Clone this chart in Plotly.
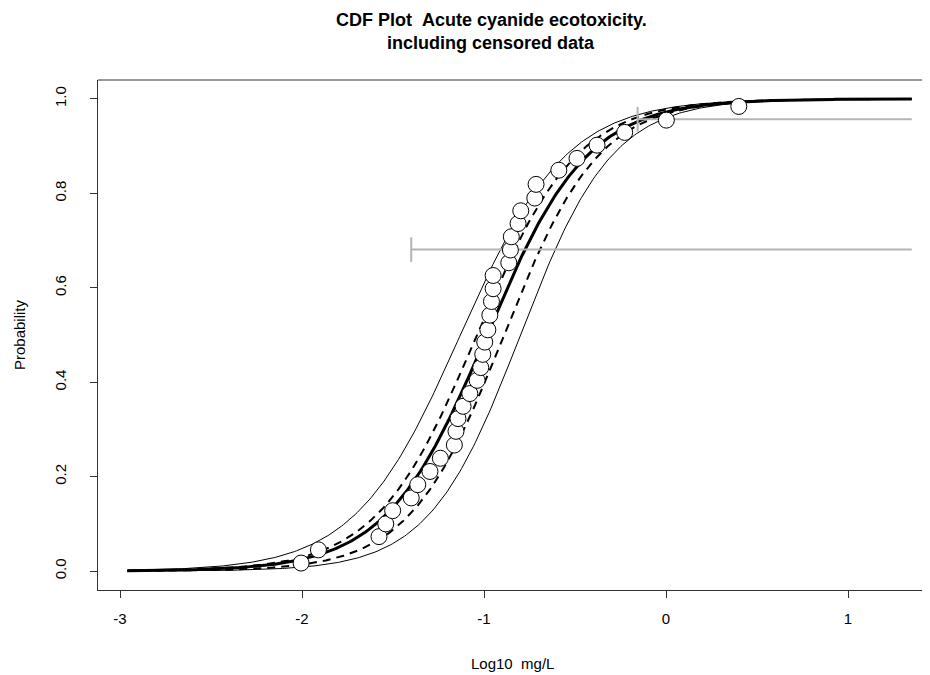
import numpy as np
import plotly.graph_objects as go

# Observed (uncensored) data: log10 concentration and plotting position
obs_x = [-2.005, -1.910, -1.577, -1.540, -1.502, -1.400, -1.364, -1.297, -1.240,
         -1.163, -1.154, -1.143, -1.115, -1.078, -1.038, -1.018, -1.007, -0.996,
         -0.979, -0.968, -0.959, -0.950, -0.950, -0.864, -0.855, -0.850, -0.813,
         -0.798, -0.721, -0.714, -0.589, -0.489, -0.379, -0.227, 0.002, 0.400]
obs_p = [0.017, 0.045, 0.073, 0.100, 0.128, 0.155, 0.183, 0.211, 0.239,
         0.267, 0.296, 0.323, 0.349, 0.376, 0.404, 0.431, 0.459, 0.485,
         0.511, 0.542, 0.571, 0.598, 0.626, 0.653, 0.680, 0.708, 0.736,
         0.763, 0.790, 0.819, 0.849, 0.874, 0.902, 0.929, 0.955, 0.984]

# Censored data intervals
cens_left = [-1.40, -0.156]
cens_right = [1.35, 1.35]
cens_p = [0.681, 0.957]

# Fitted (log-logistic) distribution and confidence bands: location, scale
fit_loc, fit_scale = -0.985, 0.277
inner_lo_loc, inner_lo_scale = -1.04, 0.275
inner_hi_loc, inner_hi_scale = -0.89, 0.26
outer_lo_loc, outer_lo_scale = -1.13, 0.29
outer_hi_loc, outer_hi_scale = -0.80, 0.252
curve_from, curve_to = -2.96, 1.35

x_ticks = [-3, -2, -1, 0, 1]
y_ticks = [0.0, 0.2, 0.4, 0.6, 0.8, 1.0]

xs = np.linspace(curve_from, curve_to, 400)


def cdf(loc, scale):
    return 1.0 / (1.0 + np.exp(-(xs - loc) / scale))


fig = go.Figure()

for loc, sc in [(outer_lo_loc, outer_lo_scale), (outer_hi_loc, outer_hi_scale)]:
    fig.add_trace(go.Scatter(x=xs, y=cdf(loc, sc), mode="lines",
                             line=dict(color="black", width=1), hoverinfo="skip"))
for loc, sc in [(inner_lo_loc, inner_lo_scale), (inner_hi_loc, inner_hi_scale)]:
    fig.add_trace(go.Scatter(x=xs, y=cdf(loc, sc), mode="lines",
                             line=dict(color="black", width=2, dash="8px,6px"),
                             hoverinfo="skip"))
fig.add_trace(go.Scatter(x=xs, y=cdf(fit_loc, fit_scale), mode="lines",
                         line=dict(color="black", width=3), hoverinfo="skip"))

# censored intervals (grey)
for l, r, p in zip(cens_left, cens_right, cens_p):
    fig.add_trace(go.Scatter(x=[l, r], y=[p, p], mode="lines",
                             line=dict(color="#b4b4b4", width=2), hoverinfo="skip"))
    fig.add_trace(go.Scatter(x=[l, l], y=[p - 0.026, p + 0.026], mode="lines",
                             line=dict(color="#b4b4b4", width=2), hoverinfo="skip"))

fig.add_trace(go.Scatter(x=obs_x, y=obs_p, mode="markers",
                         marker=dict(size=16, color="white",
                                     line=dict(color="black", width=1))))

font = "Liberation Sans, Arial, sans-serif"
PW = 832.0   # plot width in px
PH = 510.0   # plot height in px

fig.update_layout(
    width=922, height=667,
    margin=dict(l=90, r=0, t=72, b=85),
    paper_bgcolor="white", plot_bgcolor="white",
    showlegend=False,
    font=dict(family=font, size=15, color="black"),
    xaxis=dict(range=[-3.121, 1.4505], tickvals=x_ticks,
               ticktext=[str(t) for t in x_ticks],
               showgrid=False, zeroline=False, showline=True,
               linecolor="#333", linewidth=1, ticks="outside", ticklen=7,
               tickcolor="#333", tickfont=dict(size=15, family=font, color="black"),
               ticklabelstandoff=8),
    yaxis=dict(range=[-0.04, 1.04], tickvals=y_ticks,
               ticktext=["%.1f" % t for t in y_ticks],
               showgrid=False, zeroline=False, showline=True,
               linecolor="#333", linewidth=1, ticks="outside", ticklen=7,
               tickcolor="#333", tickangle=-90,
               tickfont=dict(size=15, family=font, color="black"), ticklabelstandoff=18),
    shapes=[dict(type="line", xref="paper", yref="paper", x0=0, x1=1, y0=1, y1=1,
                 line=dict(color="#333", width=1))],
    annotations=[
        dict(text="<b>CDF Plot \u00a0Acute cyanide ecotoxicity.</b>", xref="paper", yref="paper",
             x=(491 - 98) / PW, y=1 + (80 - 20) / PH, xanchor="center", yanchor="middle",
             showarrow=False, font=dict(size=18, family=font)),
        dict(text="<b>including censored data</b>", xref="paper", yref="paper",
             x=(491 - 98) / PW, y=1 + (80 - 43) / PH, xanchor="center", yanchor="middle",
             showarrow=False, font=dict(size=18, family=font)),
        dict(text="Log10 \u00a0mg/L", xref="paper", yref="paper",
             x=(512 - 98) / PW, y=-(663 - 590) / PH, xanchor="center", yanchor="middle",
             showarrow=False, font=dict(size=15, family=font)),
        dict(text="Probability", xref="paper", yref="paper", textangle=-90,
             x=-(98 - 19) / PW, y=(590 - 335) / PH, xanchor="center", yanchor="middle",
             showarrow=False, font=dict(size=15, family=font)),
    ],
)

fig.write_html("out.html")
